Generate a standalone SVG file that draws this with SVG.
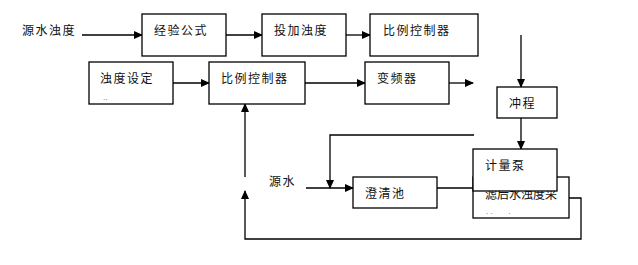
<svg xmlns="http://www.w3.org/2000/svg" width="638" height="265" viewBox="0 0 638 265">
<style>
.box{fill:#fff;stroke:#000;stroke-width:1.3}
.t{font-family:"Liberation Sans","Noto Sans CJK SC",sans-serif;font-size:12px;letter-spacing:1.5px;fill:#111}
.dot{font-family:"Liberation Sans",sans-serif;font-size:8px;fill:#555}
.ln{fill:none;stroke:#000;stroke-width:1.3}
</style>
<defs>
<marker id="ah" markerWidth="9" markerHeight="8" refX="8" refY="4" orient="auto" markerUnits="userSpaceOnUse">
<path d="M0,0 L9,4 L0,8 Z" fill="#000"/>
</marker>
</defs>
<rect width="638" height="265" fill="#fff"/>
<text class="t" x="22" y="35">源水浊度</text>
<text class="t" x="269" y="186">源水</text>
<g id="connectors">
<path class="ln" d="M82,35 H142" marker-end="url(#ah)"/>
<path class="ln" d="M226,35 H262" marker-end="url(#ah)"/>
<path class="ln" d="M346,35 H370" marker-end="url(#ah)"/>
<path class="ln" d="M173,83 H209" marker-end="url(#ah)"/>
<path class="ln" d="M305,83 H365" marker-end="url(#ah)"/>
<path class="ln" d="M449,83 H473" marker-end="url(#ah)"/>
<path class="ln" d="M521,35 V87" marker-end="url(#ah)"/>
<path class="ln" d="M521,118 V149" marker-end="url(#ah)"/>
<path class="ln" d="M474,135 H330 V188" marker-end="url(#ah)"/>
<path class="ln" d="M306,188 H353" marker-end="url(#ah)"/>
<path class="ln" d="M437,188 H474"/>
<path class="ln" d="M569,198 H581 V239 H245 V191" marker-end="url(#ah)"/>
<path class="ln" d="M245,177 V104" marker-end="url(#ah)"/>
</g>
<g id="n1"><rect class="box" x="142" y="14" width="84" height="42"/><text class="t" x="154" y="35">经验公式</text></g>
<g id="n2"><rect class="box" x="262" y="14" width="84" height="42"/><text class="t" x="274" y="35">投加浊度</text></g>
<g id="n3"><rect class="box" x="370" y="14" width="108" height="42"/><text class="t" x="383" y="35">比例控制器</text></g>
<g id="n4"><rect class="box" x="89" y="62" width="84" height="42"/><text class="t" x="100" y="83">浊度设定</text><text class="dot" x="103" y="100">..</text></g>
<g id="n5"><rect class="box" x="209" y="62" width="96" height="42"/><text class="t" x="221" y="83">比例控制器</text></g>
<g id="n6"><rect class="box" x="365" y="62" width="84" height="42"/><text class="t" x="377" y="83">变频器</text></g>
<g id="n7"><rect class="box" x="497" y="87" width="60" height="31"/><text class="t" x="509" y="108">冲程</text></g>
<g id="n8"><rect class="box" x="353" y="177" width="84" height="31"/><text class="t" x="365" y="198">澄清池</text></g>
<g id="n9"><rect class="box" x="473" y="177" width="96" height="41"/><text class="t" x="485" y="199" style="letter-spacing:0">滤后水浊度采</text><text class="dot" x="486" y="214">. .&#160;&#160;&#160;&#160;&#160;&#160;&#160;.</text></g>
<g id="n10"><rect class="box" x="473" y="149" width="84" height="42"/><text class="t" x="485" y="170">计量泵</text></g>
</svg>
